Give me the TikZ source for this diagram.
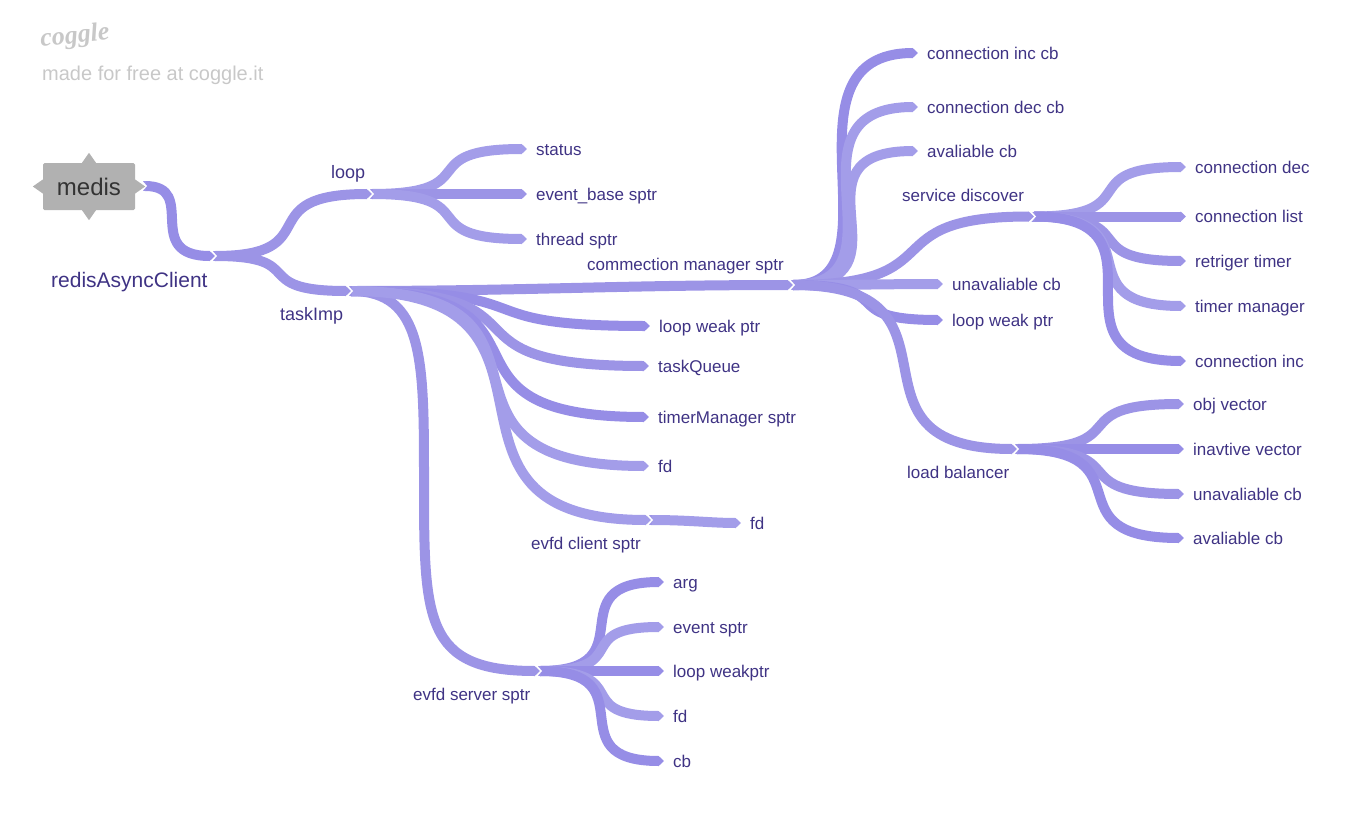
\documentclass[tikz,border=0pt]{standalone}
\usepackage{fontspec}
\setmainfont{Liberation Sans}
\newfontfamily\logofont{Liberation Serif}
\usetikzlibrary{arrows.meta,calc}
\definecolor{violetA}{HTML}{968DE6}
\definecolor{violetB}{HTML}{9C94E6}
\definecolor{violetC}{HTML}{A39DE9}
\definecolor{inktext}{HTML}{3F3384}
\definecolor{rootgrey}{HTML}{B1B1B1}
\definecolor{logogrey}{HTML}{C8C8C8}
\newcommand{\hubnotch}[1]{\fill[violetB] ($(#1)+(-5,-5)$) rectangle ($(#1)+(1,5)$);
	\fill[white] ($(#1)+(-5,-8)$) -- ($(#1)+(2,0)$) -- ($(#1)+(-5,8)$) -- cycle;}
\tikzset{
	branch/.style ={line width = 10pt, out = 0, in = 180, out looseness = 1.75, in looseness = 1.9,
		-{Triangle[length = 5.5pt, width = 10pt]}, shorten > = 9pt},
	tohub/.style ={shorten > = 0pt},
	leaf/.style ={anchor = west, inner sep = 0pt, text = inktext, text height = 14pt, text depth = 2pt,
		font = \fontsize{17}{20}\selectfont},
	bigleaf/.style ={leaf, font = \fontsize{18}{20}\selectfont},
	title/.style ={leaf, font = \fontsize{21}{24}\selectfont}
}
\begin{document}
\begin{tikzpicture}[x = 1pt, y = -1pt]
	\useasboundingbox (0,0) rectangle (1350,819);
	% logo
	\node[text = logogrey, font = \fontsize{26}{26}\logofont\itshape\bfseries, rotate = 6, inner sep = 0pt] (logo) at (75,37) {coggle};
	\node[leaf, text = logogrey, font = \fontsize{20}{24}\selectfont] (madefor) at (42,74) {made for free at coggle.it};
	% root
	\node[fill = rootgrey, rounded corners = 1.5pt, minimum width = 92pt, minimum height = 47pt, inner sep = 0pt,
		text = black!80, font = \fontsize{24}{28}\selectfont] (medis) at (89,186.5) {medis};
	% hubs
	\coordinate (rootend) at (145,186);
	\coordinate (client) at (215,256);
	\coordinate (loophub) at (372,194);
	\coordinate (taskhub) at (351,291);
	\coordinate (managerhub) at (793,285);
	\coordinate (discoverhub) at (1034,216.5);
	\coordinate (balancerhub) at (1017,449);
	\coordinate (clienthub) at (651,520);
	\coordinate (serverhub) at (540,671);
	\coordinate (servermid) at (424,480);
	% labels
	\node[title] (clienttext) at (51,281) {redisAsyncClient};
	\node[bigleaf] (looptext) at (331,172) {loop};
	\node[bigleaf] (tasktext) at (280,314) {taskImp};
	\node[leaf] (managertext) at (587,264) {commection manager sptr};
	\node[leaf] (discovertext) at (902,195) {service discover};
	\node[leaf] (balancertext) at (907,472) {load balancer};
	\node[leaf] (clientsptr) at (531,543) {evfd client sptr};
	\node[leaf] (serversptr) at (413,694) {evfd server sptr};
	\node[leaf] (status) at (536,149) {status};
	\node[leaf] (eventbase) at (536,194) {event\_base sptr};
	\node[leaf] (threadsptr) at (536,239) {thread sptr};
	\node[leaf] (loopweak) at (659,326) {loop weak ptr};
	\node[leaf] (taskqueue) at (658,366) {taskQueue};
	\node[leaf] (timersptr) at (658,417) {timerManager sptr};
	\node[leaf] (taskfd) at (658,466) {fd};
	\node[leaf] (clientfd) at (750,523) {fd};
	\node[leaf] (arg) at (673,582) {arg};
	\node[leaf] (eventsptr) at (673,627) {event sptr};
	\node[leaf] (loopweakptr) at (673,671) {loop weakptr};
	\node[leaf] (serverfd) at (673,716) {fd};
	\node[leaf] (cb) at (673,761) {cb};
	\node[leaf] (incb) at (927,53) {connection inc cb};
	\node[leaf] (deccb) at (927,107) {connection dec cb};
	\node[leaf] (availcb) at (927,151) {avaliable cb};
	\node[leaf] (unavailcb) at (952,284) {unavaliable cb};
	\node[leaf] (managerweak) at (952,320) {loop weak ptr};
	\node[leaf] (conndec) at (1195,167) {connection dec};
	\node[leaf] (connlist) at (1195,216.5) {connection list};
	\node[leaf] (retriger) at (1195,261) {retriger timer};
	\node[leaf] (timermgr) at (1195,306) {timer manager};
	\node[leaf] (conninc) at (1195,361) {connection inc};
	\node[leaf] (objvector) at (1193,404) {obj vector};
	\node[leaf] (inactive) at (1193,449) {inavtive vector};
	\node[leaf] (balunavail) at (1193,494) {unavaliable cb};
	\node[leaf] (balavail) at (1193,538) {avaliable cb};
	% connectors, children first so that each incoming tip sits in its notch
	\path[branch] (loophub) edge[draw = violetC] (status)
	edge[draw = violetB] (eventbase)
	edge[draw = violetC] (threadsptr);
	\hubnotch{loophub}
	\path[branch] (discoverhub) edge[draw = violetC] (conndec)
	edge[draw = violetB] (connlist)
	edge[draw = violetB] (retriger)
	edge[draw = violetC] (timermgr)
	edge[draw = violetA] (conninc);
	\hubnotch{discoverhub}
	\path[branch] (balancerhub) edge[draw = violetB] (objvector)
	edge[draw = violetA] (inactive)
	edge[draw = violetB] (balunavail)
	edge[draw = violetA] (balavail);
	\hubnotch{balancerhub}
	\path[branch] (managerhub) edge[out looseness = 1.08, in looseness = 1.49, draw = violetA] (incb)
	edge[out looseness = 1.39, in looseness = 1.75, draw = violetC] (deccb)
	edge[out looseness = 1.72, in looseness = 1.97, draw = violetC] (availcb)
	edge[looseness = 1.7, tohub, draw = violetB] (discoverhub)
	edge[looseness = 1, draw = violetC] (unavailcb)
	edge[draw = violetA] (managerweak)
	edge[looseness = 1.75, tohub, draw = violetB] (balancerhub);
	\hubnotch{managerhub}
	\path[branch] (clienthub) edge[looseness = 1, draw = violetC] (clientfd);
	\hubnotch{clienthub}
	\path[branch] (serverhub) edge[draw = violetA] (arg)
	edge[draw = violetC] (eventsptr)
	edge[draw = violetA] (loopweakptr)
	edge[draw = violetC] (serverfd)
	edge[draw = violetA] (cb);
	\hubnotch{serverhub}
	\draw[branch, tohub, draw = violetB] (taskhub) .. controls (424,291) and (424,360) .. (servermid)
	.. controls (424,620) and (424,671) .. (serverhub);
	\path[branch] (taskhub) edge[looseness = 1, tohub, draw = violetB] (managerhub)
	edge[looseness = 1.7, draw = violetA] (loopweak)
	edge[draw = violetB] (taskqueue)
	edge[draw = violetA] (timersptr)
	edge[draw = violetC] (taskfd)
	edge[looseness = 1.7, tohub, draw = violetC] (clienthub);
	\hubnotch{taskhub}
	\path[branch] (client) edge[tohub, draw = violetB] (loophub)
	edge[tohub, draw = violetB] (taskhub);
	\hubnotch{client}
	\path[branch] (rootend) edge[out looseness = 1.4, in looseness = 1.9, tohub, draw = violetA] (client);
	\hubnotch{rootend}
	\fill[rootgrey] ($(medis.north)+(-7,0)$) -- ($(medis.north)+(0,-10)$) -- ($(medis.north)+(7,0)$) -- cycle
		($(medis.south)+(-7,0)$) -- ($(medis.south)+(0,10)$) -- ($(medis.south)+(7,0)$) -- cycle
		($(medis.west)+(0,-7)$) -- ($(medis.west)+(-10,0)$) -- ($(medis.west)+(0,7)$) -- cycle
		($(medis.east)+(0,-7)$) -- ($(medis.east)+(10,0)$) -- ($(medis.east)+(0,7)$) -- cycle;
\end{tikzpicture}
\end{document}
